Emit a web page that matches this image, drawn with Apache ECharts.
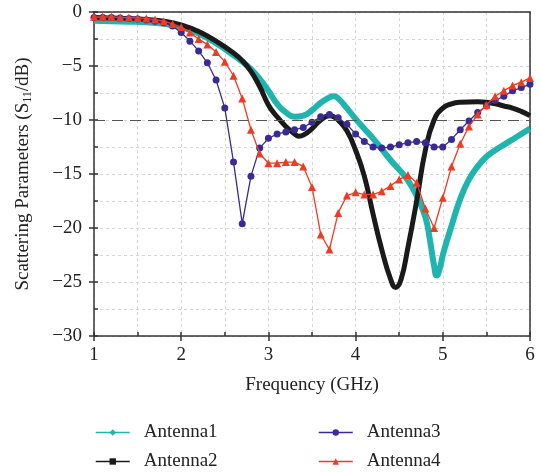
<!DOCTYPE html>
<html>
<head>
<meta charset="utf-8">
<script src="https://cdn.jsdelivr.net/npm/echarts@6/dist/echarts.min.js"></script>
<style>html,body{margin:0;padding:0;background:#fff;}#c{width:541px;height:472px;}</style>
</head>
<body>
<div id="c"></div>
<script>
// ---- data ----
const freq1 = [1.0,1.2,1.4,1.6,1.8,2.0,2.2,2.4,2.6,2.7,2.8,2.9,3.0,3.1,3.2,3.3,3.4,3.5,3.6,3.7,3.75,3.8,3.9,4.0,4.1,4.2,4.3,4.4,4.5,4.6,4.7,4.8,4.85,4.9,4.93,4.97,5.0,5.1,5.2,5.3,5.4,5.5,5.6,5.7,5.8,5.9,6.0];
const ant1 = [-0.8,-0.85,-0.9,-0.95,-1.1,-1.4,-2.0,-2.9,-4.0,-4.6,-5.3,-6.2,-7.3,-8.5,-9.3,-9.7,-9.6,-9.1,-8.4,-7.9,-7.8,-8.0,-8.9,-9.9,-10.8,-11.7,-12.7,-13.7,-14.6,-15.6,-17.0,-19.0,-21.0,-23.5,-24.4,-23.6,-22.5,-19.8,-17.3,-15.5,-14.3,-13.4,-12.8,-12.3,-11.8,-11.3,-10.8];
const freq2 = [1.0,1.2,1.4,1.6,1.8,2.0,2.2,2.4,2.6,2.7,2.8,2.9,3.0,3.1,3.2,3.3,3.35,3.4,3.5,3.6,3.7,3.75,3.8,3.9,4.0,4.1,4.2,4.3,4.4,4.46,4.52,4.6,4.7,4.8,4.9,5.0,5.1,5.2,5.4,5.5,5.6,5.7,5.8,5.9,6.0];
const ant2 = [-0.5,-0.55,-0.6,-0.7,-0.85,-1.2,-1.8,-2.7,-3.8,-4.5,-5.5,-6.9,-8.6,-9.7,-10.6,-11.3,-11.5,-11.4,-10.8,-10.0,-9.6,-9.7,-10.0,-11.0,-12.8,-15.2,-18.7,-22.0,-24.7,-25.5,-24.8,-21.8,-17.5,-12.8,-10.0,-8.9,-8.5,-8.35,-8.3,-8.35,-8.5,-8.7,-8.9,-9.2,-9.6];
const freqStep = [1.0,1.1,1.2,1.3,1.4,1.5,1.6,1.7,1.8,1.9,2.0,2.1,2.2,2.3,2.4,2.5,2.6,2.7,2.8,2.9,3.0,3.1,3.2,3.3,3.4,3.5,3.6,3.7,3.8,3.9,4.0,4.1,4.2,4.3,4.4,4.5,4.6,4.7,4.8,4.9,5.0,5.1,5.2,5.3,5.4,5.5,5.6,5.7,5.8,5.9,6.0];
const ant3 = [-0.5,-0.5,-0.5,-0.55,-0.6,-0.65,-0.75,-0.85,-1.0,-1.3,-1.9,-2.7,-3.6,-4.7,-6.3,-8.9,-13.9,-19.6,-15.2,-12.6,-11.7,-11.3,-11.1,-10.9,-10.7,-10.2,-9.7,-9.5,-9.8,-10.4,-11.3,-12.0,-12.5,-12.6,-12.5,-12.3,-12.1,-12.0,-12.1,-12.5,-12.5,-11.8,-10.9,-10.1,-9.3,-8.7,-8.2,-7.8,-7.3,-7.0,-6.7];
const ant4 = [-0.45,-0.45,-0.45,-0.5,-0.5,-0.55,-0.6,-0.7,-0.85,-1.1,-1.4,-1.9,-2.5,-3.0,-3.7,-4.6,-5.9,-8.0,-10.9,-13.1,-14.0,-14.0,-13.9,-13.9,-14.3,-16.2,-20.6,-22.0,-18.6,-17.0,-16.7,-16.9,-16.9,-16.6,-16.1,-15.5,-15.1,-15.8,-18.2,-20.0,-17.2,-14.3,-12.2,-10.6,-9.5,-8.6,-7.8,-7.3,-6.8,-6.5,-6.1];
const threshold = -10;
const names = ['Antenna1','Antenna2','Antenna3','Antenna4'];

const zip = (xs, ys) => xs.map((x, i) => [x, ys[i]]);
const FONT = '"Liberation Serif", "DejaVu Serif", serif';
const FS = 19;
const TXT = '#222';
const axisLineStyle = { color: '#333', width: 1.5 };
const gridLine = { show: true, lineStyle: { color: '#d6d6d6', type: [3, 3], width: 1 } };

const legendAt = (name, left, top) => ({
  data: [name], left: left, top: top, itemWidth: 34, itemHeight: 8, padding: 0,
  textStyle: { fontFamily: FONT, fontSize: FS, color: TXT, padding: [0, 0, 0, 9] },
  lineStyle: { width: 1.5 }
});

const chart = echarts.init(document.getElementById('c'));
chart.setOption({
  animation: false,
  backgroundColor: '#fff',
  grid: { left: 94, right: 11, top: 12, bottom: 136 },
  legend: [
    legendAt(names[0], 95, 423),
    legendAt(names[1], 95, 452),
    legendAt(names[2], 318, 423),
    legendAt(names[3], 318, 452)
  ],
  xAxis: [
    { type: 'value', position: 'bottom', min: 1, max: 6, interval: 1,
      name: 'Frequency (GHz)', nameLocation: 'middle', nameGap: 40,
      nameTextStyle: { fontFamily: FONT, fontSize: FS, color: TXT },
      axisLine: { show: true, onZero: false, lineStyle: axisLineStyle },
      axisTick: { show: true, inside: false, length: 5, lineStyle: axisLineStyle },
      axisLabel: { fontFamily: FONT, fontSize: FS, color: TXT, margin: 10 },
      splitLine: gridLine,
      minorTick: { show: false, splitNumber: 2 },
      minorSplitLine: gridLine },
    { type: 'value', position: 'bottom', min: 1, max: 6, interval: 0.5,
      axisLine: { show: false, onZero: false }, axisLabel: { show: false },
      axisTick: { show: true, inside: true, length: 4, lineStyle: axisLineStyle },
      splitLine: { show: false } },
    { type: 'value', position: 'top', min: 1, max: 6, interval: 1,
      axisLine: { show: true, onZero: false, lineStyle: axisLineStyle }, axisLabel: { show: false },
      axisTick: { show: false }, splitLine: { show: false } }
  ],
  yAxis: [
    { type: 'value', position: 'left', min: -30, max: 0, interval: 5,
      name: '{a|Scattering Parameters (S}{s|11}{a|/dB)}', nameLocation: 'middle', nameGap: 60,
      nameTextStyle: { fontFamily: FONT, fontSize: FS, color: TXT,
        rich: { a: { fontFamily: FONT, fontSize: FS, color: TXT },
                s: { fontFamily: FONT, fontSize: 12, color: TXT, verticalAlign: 'bottom', padding: [9, 0, 0, 0] } } },
      axisLine: { show: true, onZero: false, lineStyle: axisLineStyle },
      axisTick: { show: true, inside: false, length: 5, lineStyle: axisLineStyle },
      axisLabel: { fontFamily: FONT, fontSize: FS, color: TXT, margin: 12,
        formatter: v => String(v).replace('-', '\u2212') },
      splitLine: gridLine,
      minorTick: { show: false, splitNumber: 2 },
      minorSplitLine: gridLine },
    { type: 'value', position: 'left', min: -30, max: 0, interval: 2.5,
      axisLine: { show: false, onZero: false }, axisLabel: { show: false },
      axisTick: { show: true, inside: true, length: 4, lineStyle: axisLineStyle },
      splitLine: { show: false } },
    { type: 'value', position: 'right', min: -30, max: 0, interval: 5,
      axisLine: { show: true, onZero: false, lineStyle: axisLineStyle }, axisLabel: { show: false },
      axisTick: { show: false }, splitLine: { show: false } }
  ],
  series: [
    { name: names[0], type: 'line', data: zip(freq1, ant1), smooth: 0.5, symbol: 'diamond', showSymbol: false,
      lineStyle: { color: '#1fb5ae', width: 6 }, itemStyle: { color: '#1fb5ae' }, z: 2,
      markLine: { silent: true, symbol: 'none', label: { show: false },
        lineStyle: { color: '#555', type: [11, 7], width: 1.2 },
        data: [{ yAxis: threshold }] } },
    { name: names[1], type: 'line', data: zip(freq2, ant2), smooth: 0.5, symbol: 'rect', showSymbol: false,
      lineStyle: { color: '#1a1a1a', width: 5 }, itemStyle: { color: '#1a1a1a' }, z: 3 },
    { name: names[2], type: 'line', data: zip(freqStep, ant3), symbol: 'circle', symbolSize: 7,
      lineStyle: { color: '#3a2b94', width: 1.3 }, itemStyle: { color: '#3a2b94' }, z: 4 },
    { name: names[3], type: 'line', data: zip(freqStep, ant4), symbol: 'triangle', symbolSize: 8,
      lineStyle: { color: '#ee3b24', width: 1.3 }, itemStyle: { color: '#ee3b24' }, z: 5 }
  ]
});
</script>
</body>
</html>
